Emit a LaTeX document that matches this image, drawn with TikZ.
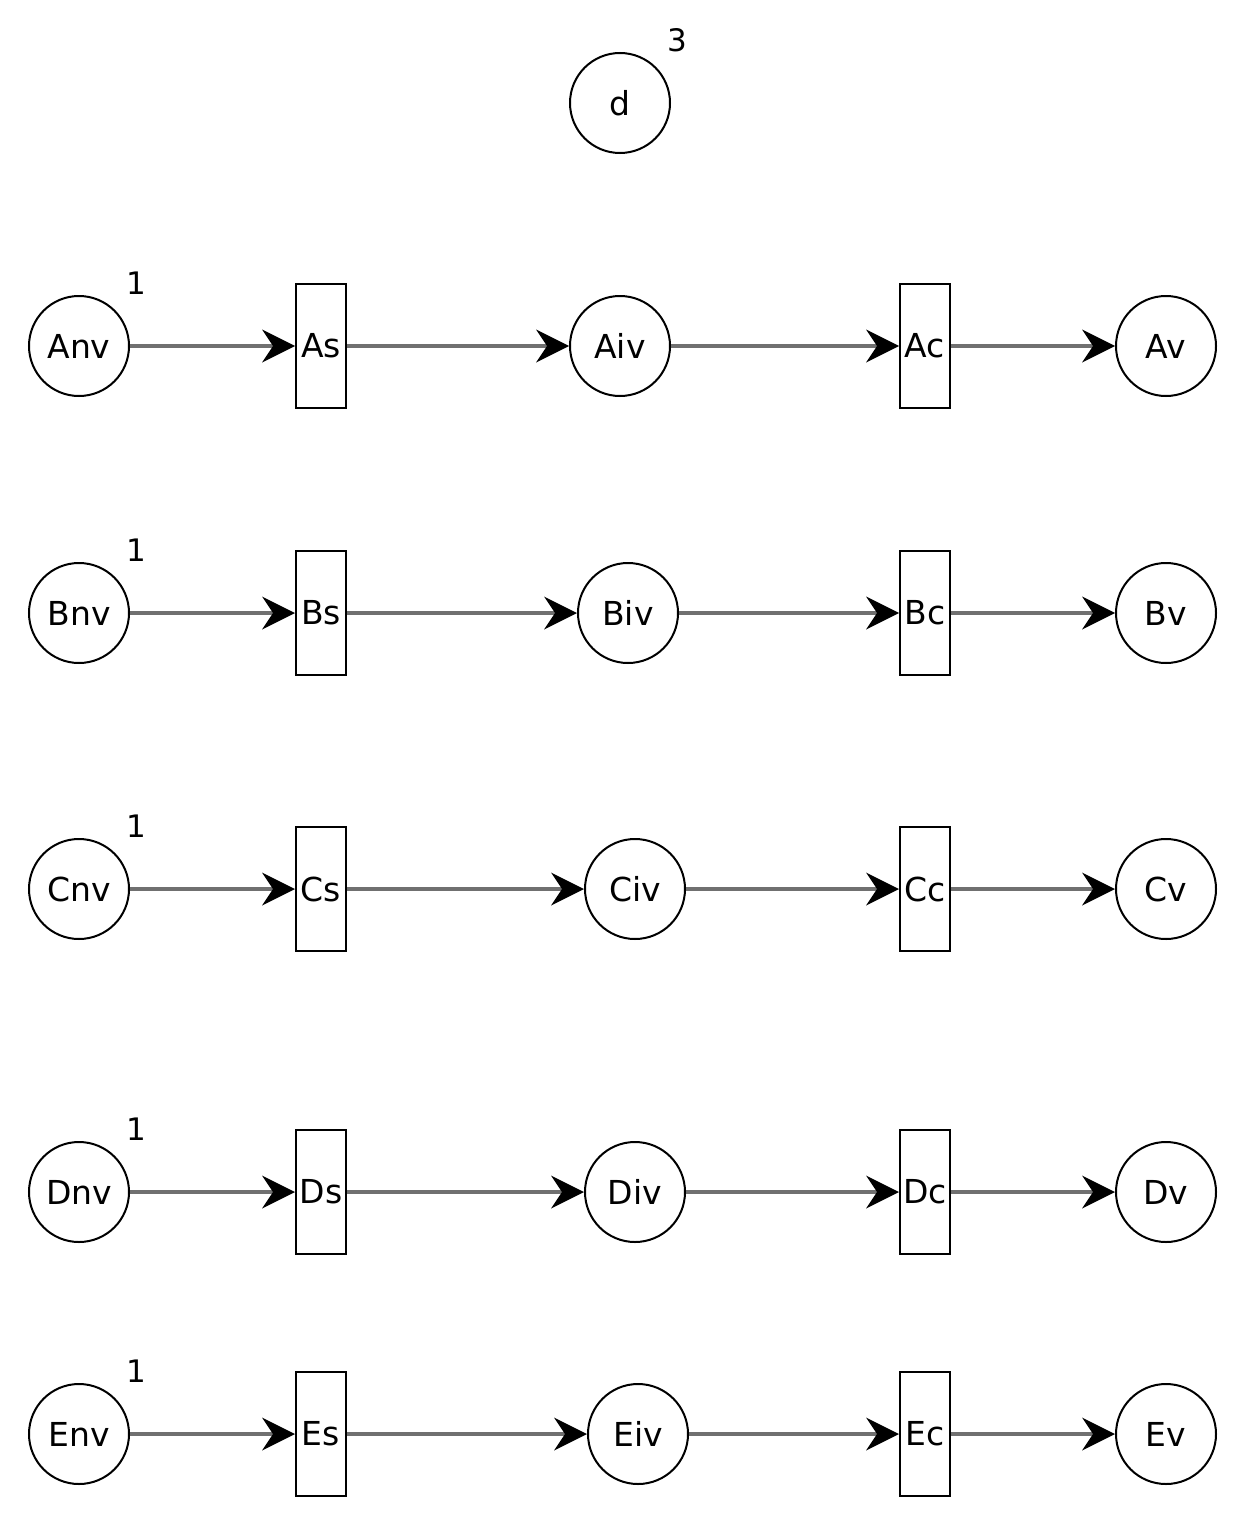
\documentclass[tikz,border=0pt]{standalone}
\usepackage{fontspec}
\setmainfont{DejaVu Sans}
\usetikzlibrary{arrows.meta}
\definecolor{edgegray}{HTML}{707070}
\begin{document}
\begin{tikzpicture}[x=1pt,y=-1pt,
  place/.style={circle,draw=black,line width=2pt,minimum size=100pt,inner sep=0pt,font=\fontsize{33}{40}\selectfont},
  trans/.style={rectangle,draw=black,line width=2pt,minimum width=50pt,minimum height=124pt,inner sep=0pt},
  tlabel/.style={inner sep=0pt,font=\fontsize{33}{40}\selectfont},
  num/.style={inner sep=0pt,font=\fontsize{31}{38}\selectfont},
  flow/.style={draw=edgegray,line width=4pt,-{Stealth[length=33pt,width=33pt,inset=11pt,fill=black,color=black,line width=0pt]}}
]
\useasboundingbox[fill=white] (0,0) rectangle (1236,1525);
\node[place] (d) at (620,103) {d};
\node[num] (n3) at (677,40) {3};
\foreach \R/\y/\ivx in {A/346/620, B/613/628, C/889/635, D/1192/635, E/1434/638}{
  \node[place] (\R nv) at (79,\y) {\R nv};
  \node[num] (\R one) at (136,\y-63) {1};
  \node[trans] (\R s) at (321,\y) {};
  \node[tlabel] (\R stext) at (321,\y) {\R s};
  \node[place] (\R iv) at (\ivx,\y) {\R iv};
  \node[trans] (\R c) at (925,\y) {};
  \node[tlabel] (\R ctext) at (925,\y) {\R c};
  \node[place] (\R v) at (1166,\y) {\R v};
  \draw[flow] (\R nv) -- (\R s);
  \draw[flow] (\R s) -- (\R iv);
  \draw[flow] (\R iv) -- (\R c);
  \draw[flow] (\R c) -- (\R v);
}
\end{tikzpicture}
\end{document}
